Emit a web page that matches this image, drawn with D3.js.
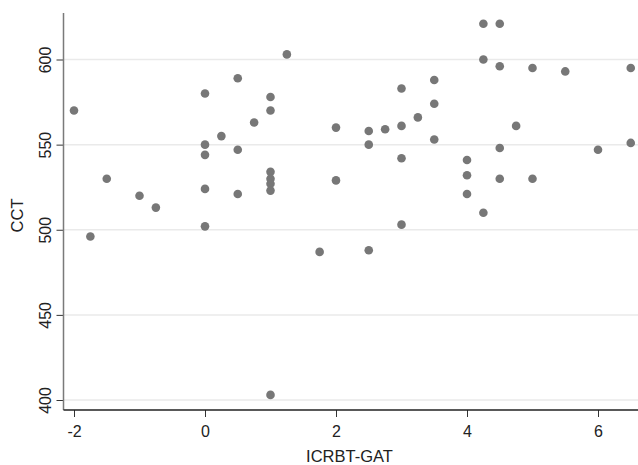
<!DOCTYPE html>
<html><head><meta charset="utf-8">
<script src="https://cdn.jsdelivr.net/npm/d3@7"></script>
<style>body{margin:0;background:#fff}svg{display:block}</style>
</head><body><svg id="c" width="638" height="465"></svg>
<script>
const icrbtGat = [-2,-1.75,-1.5,-1,-0.75,0,0,0,0,0,0.25,0.5,0.5,0.5,0.75,1,1,1,1,1,1,1,1.25,1.75,
  2,2,2.5,2.5,2.5,2.75,3,3,3,3,3.25,3.5,3.5,3.5,4,4,4,4.25,4.25,4.25,4.5,4.5,4.5,4.5,4.75,5,5,5.5,6,6.5,6.5];
const cct = [570,496,530,520,513,580,550,544,524,502,555,589,547,521,563,578,570,534,530,527,523,403,603,487,
  560,529,558,550,488,559,583,561,542,503,566,588,574,553,541,532,521,621,600,510,621,596,548,530,561,595,530,593,547,595,551];
const xTicks = [-2,0,2,4,6];
const yTicks = [400,450,500,550,600];

const svg = d3.select("#c");
const x = d3.scaleLinear().domain([-2, 6]).range([74, 598]);
const y = d3.scaleLinear().domain([400, 600]).range([400, 59.5]);
const pLeft = 63.5, pRight = 638, pTop = 13, pBottom = 410;
const FONT = "Liberation Sans, Arial, sans-serif";

// gridlines
svg.append("g").selectAll("line").data(yTicks).join("line")
  .attr("x1", pLeft).attr("x2", pRight)
  .attr("y1", d => y(d)).attr("y2", d => y(d))
  .attr("stroke", "#eaeaea").attr("stroke-width", 1.5);

// y axis
const ya = svg.append("g").attr("transform", `translate(${pLeft},0)`)
  .call(d3.axisLeft(y).tickValues(yTicks).tickSize(7).tickPadding(4).tickFormat(d => String(d)));
ya.select(".domain").remove();
ya.append("line").attr("x1",0).attr("x2",0).attr("y1",pTop).attr("y2",pBottom).attr("stroke","#7a7a7a").attr("stroke-width",1.5);
ya.selectAll(".tick line").attr("stroke","#333");
ya.selectAll(".tick text").attr("font-family",FONT).attr("font-size",16).attr("fill","#222")
  .attr("transform","rotate(-90)").attr("x",0).attr("dx",0).attr("y",-13).attr("dy","0").attr("text-anchor","middle");

// x axis
const xa = svg.append("g").attr("transform", `translate(0,${pBottom})`)
  .call(d3.axisBottom(x).tickValues(xTicks).tickSize(7).tickPadding(9).tickFormat(d => String(d)));
xa.select(".domain").remove();
xa.append("line").attr("x1",pLeft).attr("x2",pRight).attr("y1",0).attr("y2",0).attr("stroke","#222").attr("stroke-width",1.5);
xa.selectAll(".tick line").attr("stroke","#333");
xa.selectAll(".tick text").attr("font-family",FONT).attr("font-size",16).attr("fill","#222");

// points
svg.append("g").selectAll("circle").data(icrbtGat.map((v,i)=>[v,cct[i]])).join("circle")
  .attr("cx", d => x(d[0])).attr("cy", d => y(d[1])).attr("r", 4.3).attr("fill", "#777");

// axis titles
svg.append("text").attr("x", 349.5).attr("y", 461.5).attr("text-anchor","middle")
  .attr("font-family",FONT).attr("font-size",16.5).attr("fill","#222").text("ICRBT-GAT");
svg.append("text").attr("transform","translate(23.3,215.5) rotate(-90)").attr("text-anchor","middle")
  .attr("font-family",FONT).attr("font-size",16.5).attr("fill","#222").text("CCT");
</script></body></html>
